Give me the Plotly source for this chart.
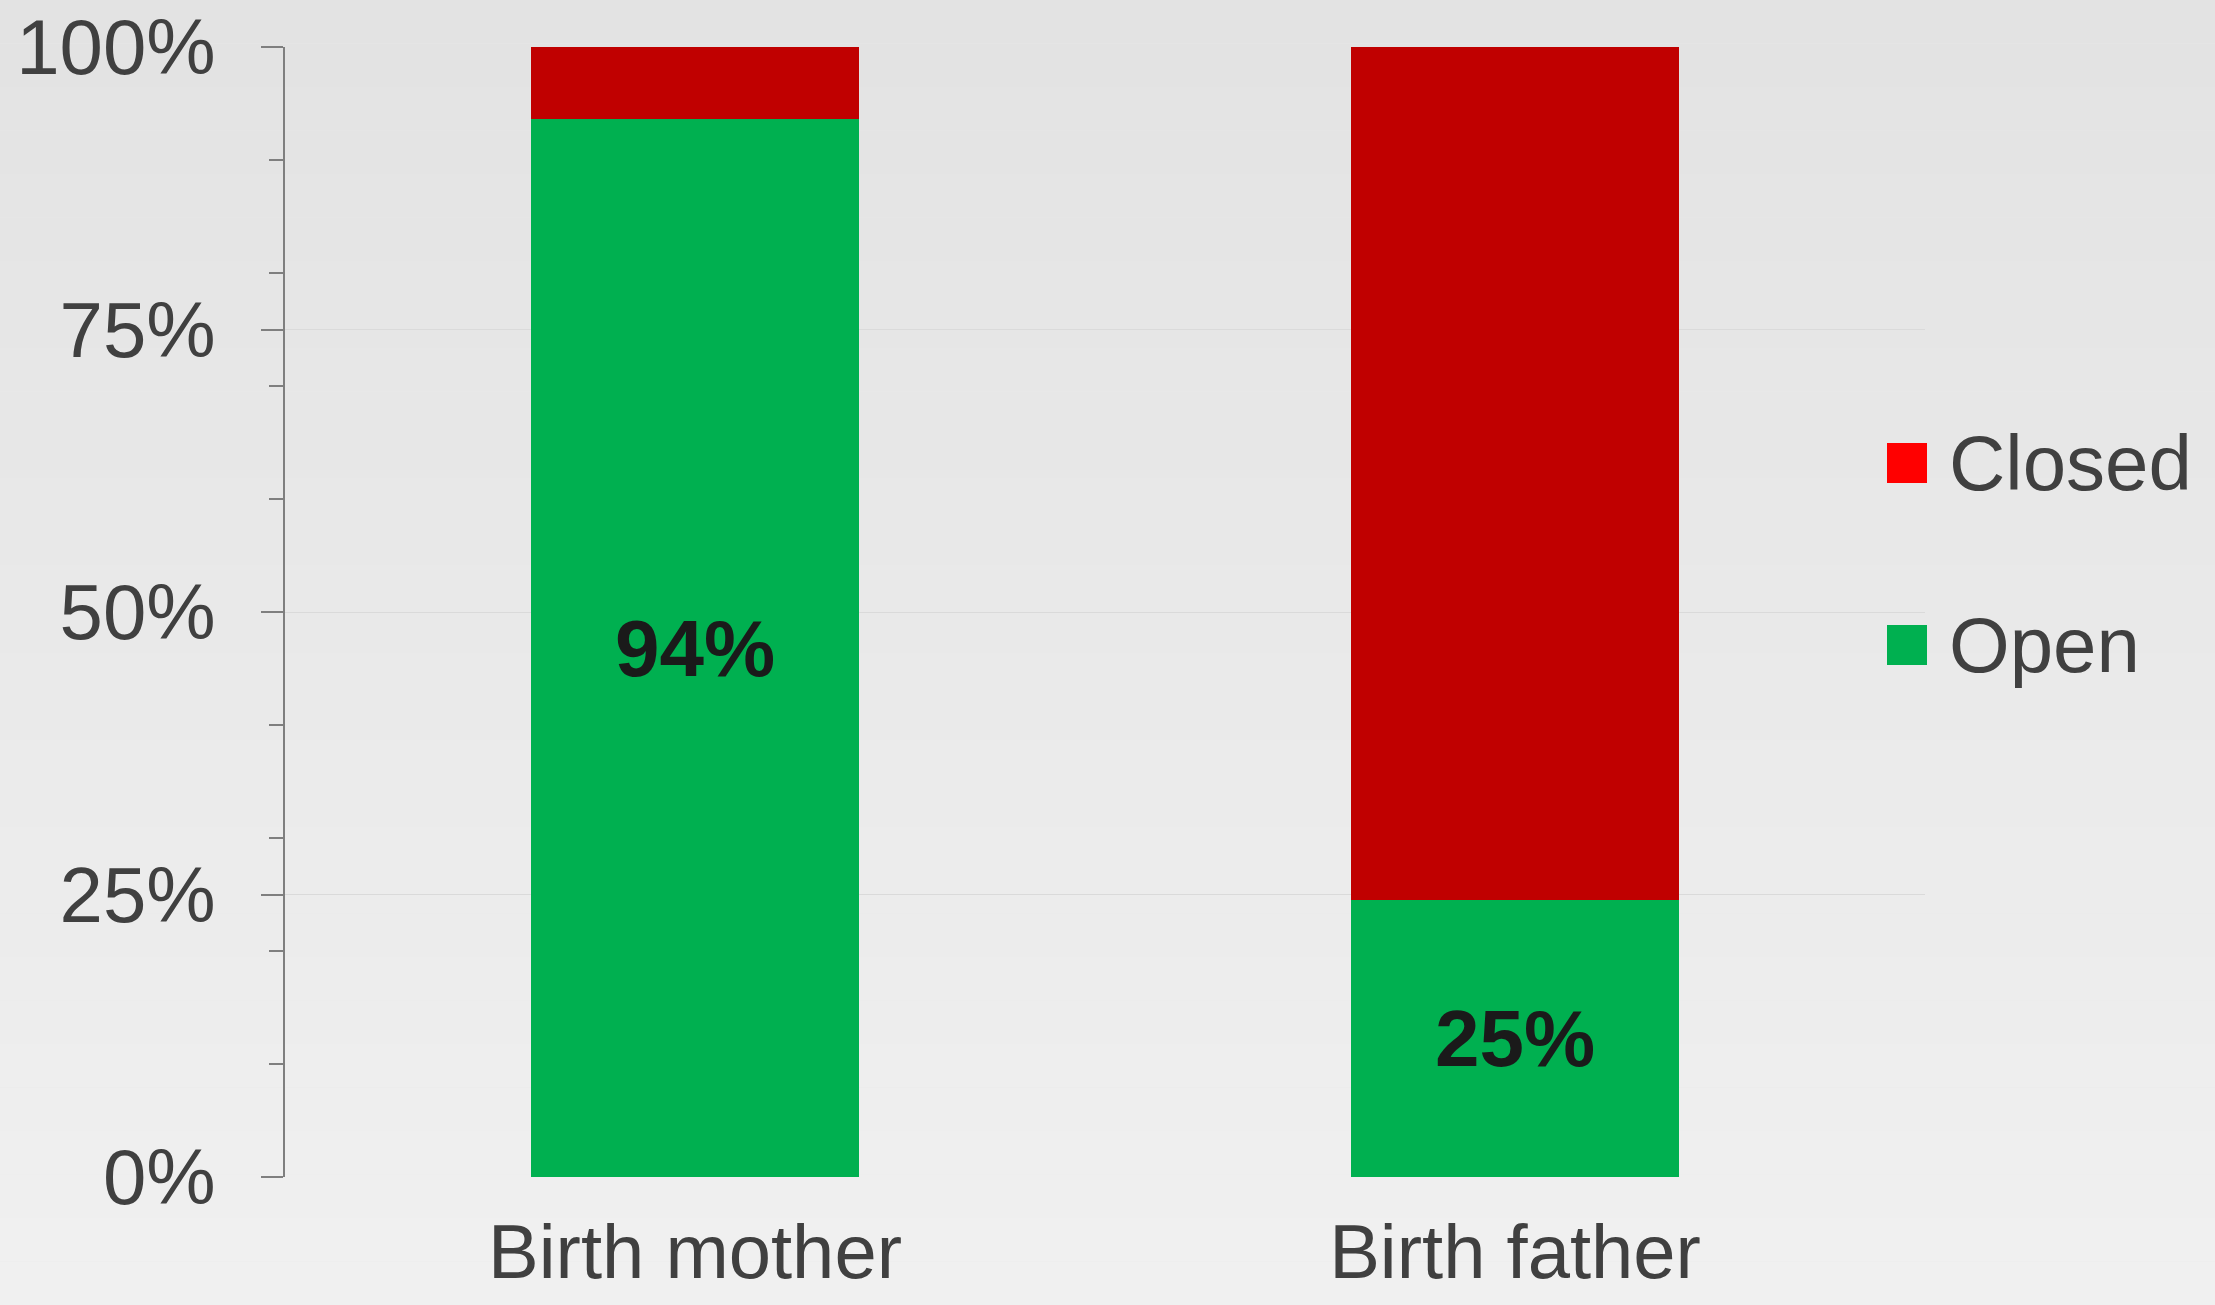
import plotly.graph_objects as go

# ---- data ----
categories = ["Birth mother", "Birth father"]
open_pct = [93.6, 24.5]
closed_pct = [6.4, 75.5]
open_labels = ["94%", "25%"]
series_names = ["Closed", "Open"]
y_tick_vals = [0, 25, 50, 75, 100]
y_tick_text = ["0%", "25%", "50%", "75%", "100%"]

GREEN = "#00B050"
DARK_RED = "#C00000"
LEGEND_RED = "#FF0000"
TEXT = "#404040"
FONT = "Liberation Sans, Arial, sans-serif"

W, H = 2215, 1305
L, R, T, B = 285, 290, 47, 128
PW, PH = W - L - R, H - T - B


def px_x(px):
    return (px - L) / PW


def px_y(py):
    return (H - B - py) / PH


fig = go.Figure()
fig.add_trace(go.Bar(
    x=categories, y=open_pct, name=series_names[1],
    marker=dict(color=GREEN, line=dict(width=0)),
    text=open_labels, textposition="inside", insidetextanchor="middle",
    textfont=dict(family=FONT, size=80, color="#1a1a1a", weight="bold"),
    constraintext="none", showlegend=False, width=0.4,
))
fig.add_trace(go.Bar(
    x=categories, y=closed_pct, name=series_names[0],
    marker=dict(color=DARK_RED, line=dict(width=0)),
    showlegend=False, width=0.4,
))

# background gradient (decorative)
shapes = []
n = 30
c0, c1 = 0xE3, 0xF0
for i in range(n):
    c = round(c0 + (c1 - c0) * i / (n - 1))
    col = f"rgb({c},{c},{c})"
    shapes.append(dict(type="rect", xref="paper", yref="paper",
                       x0=px_x(0), x1=px_x(W),
                       y0=px_y(H * (i + 1) / n), y1=px_y(H * i / n),
                       fillcolor=col, line=dict(width=0), layer="below"))

# manual legend (large swatches)
annotations = []
legend_items = [(series_names[0], LEGEND_RED, 463), (series_names[1], GREEN, 645)]
for name, col, cy in legend_items:
    shapes.append(dict(type="rect", xref="paper", yref="paper",
                       x0=px_x(1887), x1=px_x(1927),
                       y0=px_y(cy + 20), y1=px_y(cy - 20),
                       fillcolor=col, line=dict(width=0)))
    annotations.append(dict(xref="paper", yref="paper", x=px_x(1947), y=px_y(cy),
                            text=name, showarrow=False, xanchor="left", yanchor="middle",
                            font=dict(family=FONT, size=78, color=TEXT)))

fig.update_layout(
    width=W, height=H,
    margin=dict(l=L, r=R, t=T, b=B, pad=0, autoexpand=False),
    barmode="stack",
    paper_bgcolor="#e9e9e9",
    plot_bgcolor="rgba(0,0,0,0)",
    font=dict(family=FONT, color=TEXT),
    shapes=shapes,
    annotations=annotations,
    showlegend=False,
)
fig.update_yaxes(
    range=[0, 100], tickvals=y_tick_vals, ticktext=y_tick_text,
    tickfont=dict(family=FONT, size=78, color=TEXT),
    showline=True, linecolor="#7f7f7f", linewidth=1.5,
    ticks="outside", ticklen=22, tickcolor="#7f7f7f", tickwidth=1.5,
    showgrid=True, gridcolor="#dadada", gridwidth=1,
    zeroline=False, ticklabelstandoff=30, automargin=False,
    minor=dict(dtick=10, ticks="outside", ticklen=14, tickcolor="#7f7f7f",
               tickwidth=1.5, showgrid=False),
)
fig.update_xaxes(
    tickfont=dict(family=FONT, size=76, color=TEXT),
    showline=False, ticks="", showgrid=False, ticklabelstandoff=24,
    automargin=False,
)

fig.write_html(
    "out.html",
    config={"displayModeBar": False},
    post_script="document.body.style.margin='0';document.body.style.overflow='hidden';",
)
